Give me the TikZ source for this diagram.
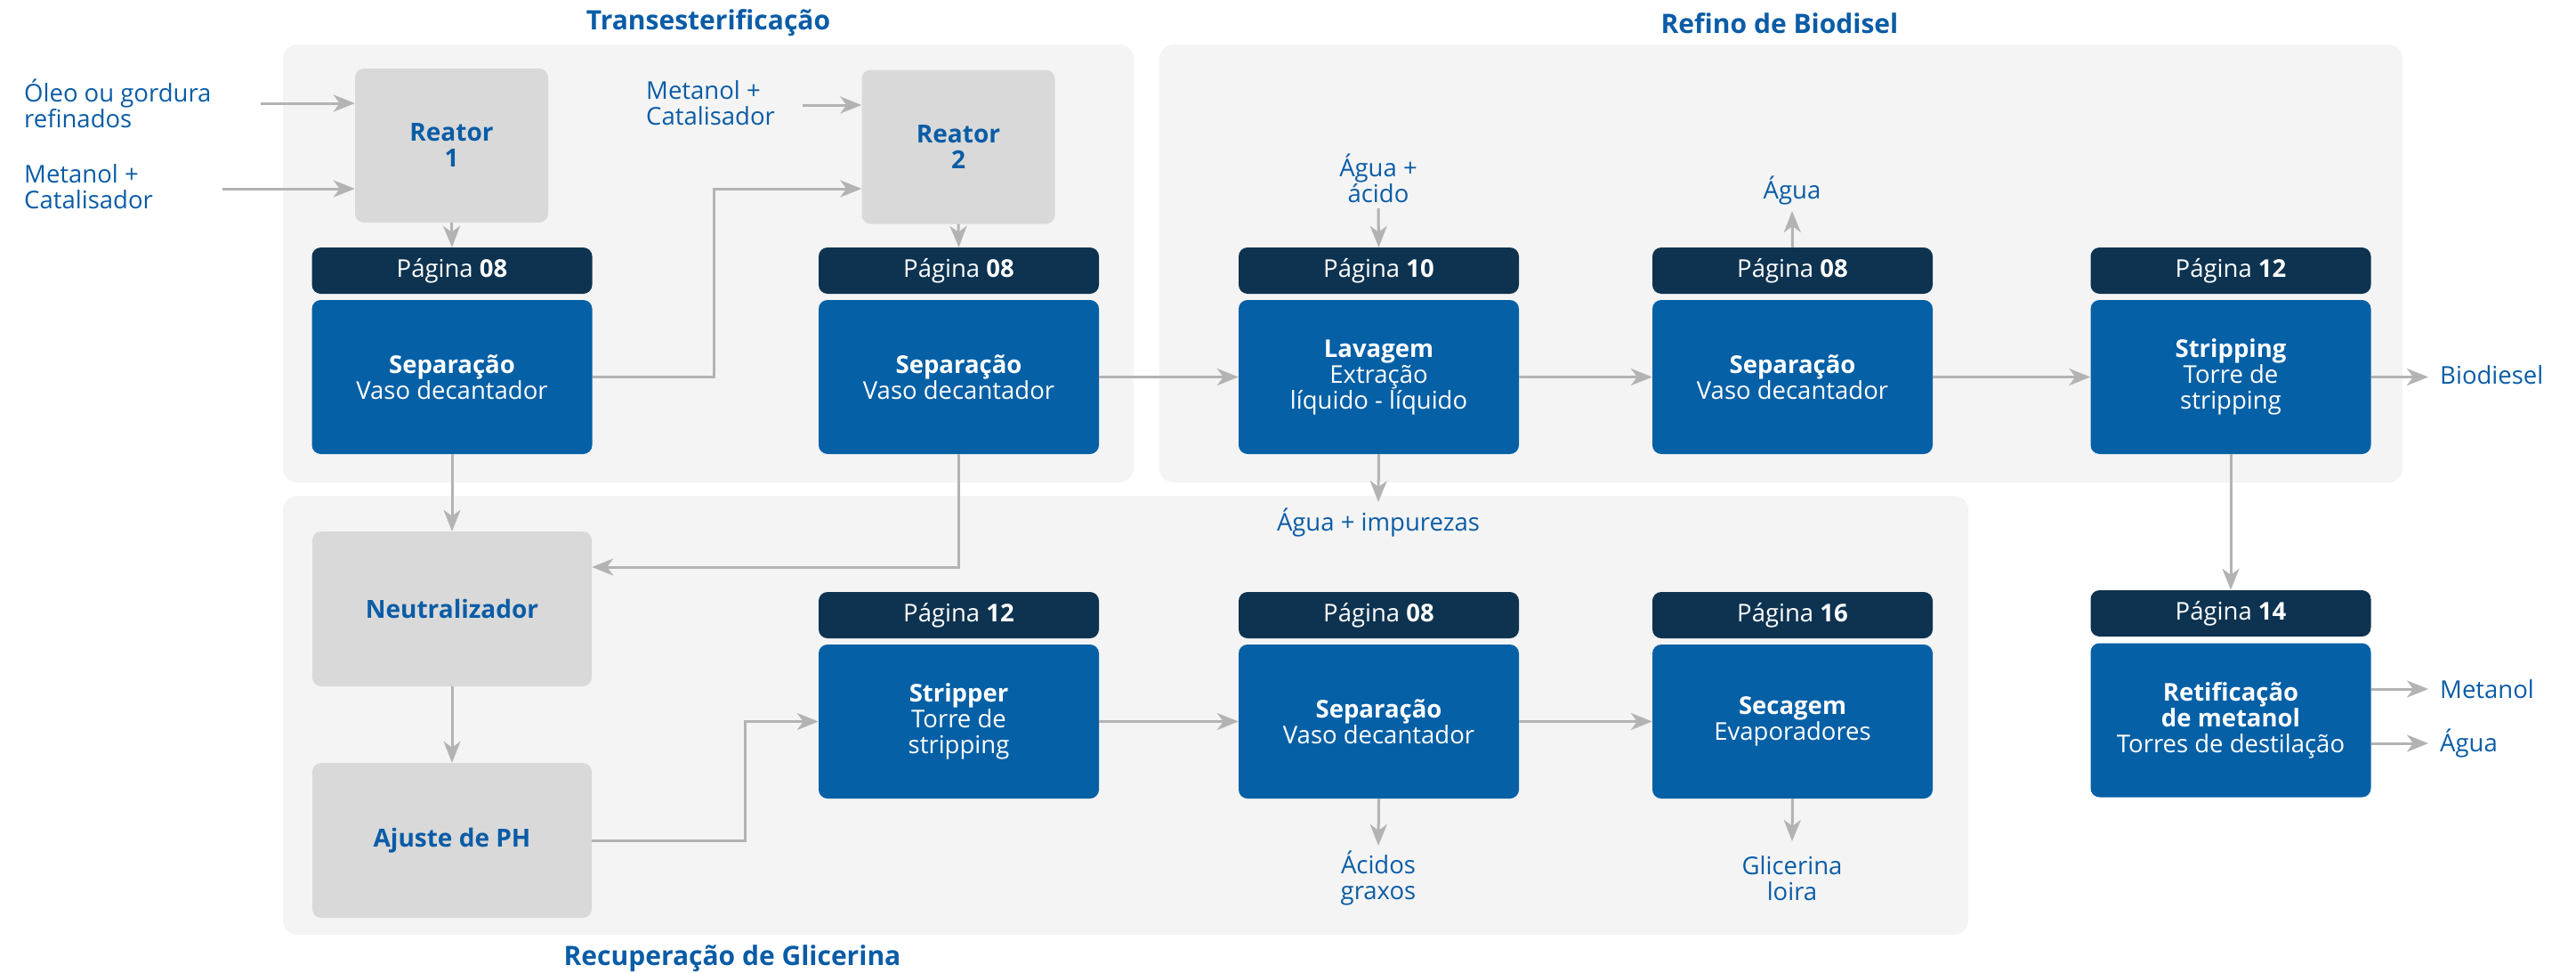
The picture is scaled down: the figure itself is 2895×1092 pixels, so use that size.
\documentclass[tikz,border=0pt]{standalone}
\usepackage{fontspec}
\setmainfont{Open Sans}
\usetikzlibrary{arrows.meta}

\definecolor{panel}{HTML}{F4F4F4}
\definecolor{unitfill}{HTML}{D9D9D9}
\definecolor{hdrfill}{HTML}{0E3350}
\definecolor{procfill}{HTML}{0560A6}
\definecolor{ink}{HTML}{0A5CA6}
\definecolor{flow}{HTML}{B3B3B3}

\begin{document}
\begin{tikzpicture}[x=1pt,y=-1pt,
  every node/.style={font=\fontsize{27.5}{29}\selectfont, inner sep=0pt},
  panelbox/.style={fill=panel, rounded corners=16pt},
  paneltitle/.style={text=ink, font=\fontsize{30}{32}\selectfont\bfseries},
  unitbox/.style={fill=unitfill, rounded corners=10pt, minimum width=217pt,
    minimum height=173pt, text=ink, align=center,
    font=\fontsize{28}{29}\selectfont\bfseries},
  wideunit/.style={unitbox, minimum width=314pt, minimum height=174pt},
  hdrbox/.style={fill=hdrfill, rounded corners=10pt, minimum width=315pt,
    minimum height=52pt, text=white},
  procbox/.style={fill=procfill, rounded corners=10pt, minimum width=315pt,
    minimum height=173pt, text=white, align=center},
  lbl/.style={text=ink},
  flowline/.style={draw=flow, line width=3pt,
    -{Stealth[length=24pt, width=19pt, inset=7pt]}}
]
\useasboundingbox (0,0) rectangle (2895,1092);

% ---------- panels ----------
\fill[panelbox] (318,50) rectangle (1274,542);
\fill[panelbox] (1303,50) rectangle (2700,542);
\fill[panelbox] (318,557) rectangle (2212,1050);

\node[paneltitle] (tTrans) at (796,26) {Transesterificação};
\node[paneltitle] (tRefino) at (2000,26) {Refino de Biodisel};
\node[paneltitle] (tGlic) at (823,1077) {Recuperação de Glicerina};

% ---------- transesterification ----------
\node[unitbox] (r1) at (507.5,163.5) {Reator\\1};
\node[unitbox] (r2) at (1077,165) {Reator\\2};
\node[hdrbox] (h1) at (508,304) {Página \textbf{08}};
\node[procbox] (s1) at (508,423.5) {\textbf{Separação}\\Vaso decantador};
\node[hdrbox] (h2) at (1077.5,304) {Página \textbf{08}};
\node[procbox] (s2) at (1077.5,423.5) {\textbf{Separação}\\Vaso decantador};

% ---------- biodiesel refining ----------
\node[hdrbox] (h3) at (1549.5,304) {Página \textbf{10}};
\node[procbox] (lav) at (1549.5,423.5) {\textbf{Lavagem}\\Extração\\líquido - líquido};
\node[hdrbox] (h4) at (2014.5,304) {Página \textbf{08}};
\node[procbox] (s3) at (2014.5,423.5) {\textbf{Separação}\\Vaso decantador};
\node[hdrbox] (h5) at (2507,304) {Página \textbf{12}};
\node[procbox] (strip) at (2507,423.5) {\textbf{Stripping}\\Torre de\\stripping};

% ---------- glycerin recovery ----------
\node[wideunit] (neut) at (508,684) {Neutralizador};
\node[wideunit] (ajs) at (508,944) {Ajuste de PH};
\node[hdrbox] (h6) at (1077.5,691) {Página \textbf{12}};
\node[procbox] (stp) at (1077.5,810.5) {\textbf{Stripper}\\Torre de\\stripping};
\node[hdrbox] (h7) at (1549.5,691) {Página \textbf{08}};
\node[procbox] (s4) at (1549.5,810.5) {\textbf{Separação}\\Vaso decantador};
\node[hdrbox] (h8) at (2014.5,691) {Página \textbf{16}};
\node[procbox] (sec) at (2014.5,810.5) {\textbf{Secagem}\\Evaporadores};

% ---------- methanol rectification ----------
\node[hdrbox] (h9) at (2507,689) {Página \textbf{14}};
\node[procbox] (ret) at (2507,809) {\textbf{Retificação}\\\textbf{de metanol}\\Torres de destilação};

% ---------- stream labels ----------
\node[lbl, anchor=west, align=left] (oleo) at (27,116) {Óleo ou gordura\\refinados};
\node[lbl, anchor=west, align=left] (met1) at (27,210) {Metanol +\\Catalisador};
\node[lbl, anchor=west, align=left] (met2) at (726,116) {Metanol +\\Catalisador};
\node[lbl, align=center] (aguaAc) at (1549,200) {Água +\\ácido};
\node[lbl] (agua1) at (2014,214) {Água};
\node[lbl] (aguaImp) at (1549,587) {Água + impurezas};
\node[lbl, anchor=west] (biod) at (2742,421.5) {Biodiesel};
\node[lbl, anchor=west] (metOut) at (2742,774) {Metanol};
\node[lbl, anchor=west] (agua2) at (2742,835) {Água};
\node[lbl, align=center] (acidos) at (1549,986) {Ácidos\\graxos};
\node[lbl, align=center] (glic) at (2014,987) {Glicerina\\loira};

% ---------- connector end points ----------
\coordinate (oleoEnd) at (293,116);
\coordinate (met1End) at (250,212);
\coordinate (met2End) at (902,118);
\coordinate (j1) at (802,212);
\coordinate (j2) at (837,810.5);
\coordinate (aguaAcEnd) at (1549,234);
\coordinate (agua1End) at (2014,237);
\coordinate (impEnd) at (1549,564);
\coordinate (acidEnd) at (1549,950);
\coordinate (glicEnd) at (2014,945);
\coordinate (biodEnd) at (2729,423.5);
\coordinate (metEnd) at (2729,774);
\coordinate (agua2End) at (2729,835);
\coordinate (neutIn) at (665,637);

% ---------- flows ----------
\draw[flowline] (oleoEnd) -- (oleoEnd -| r1.west);
\draw[flowline] (met1End) -- (met1End -| r1.west);
\draw[flowline] (met2End) -- (met2End -| r2.west);
\draw[flowline] (r1.south) -- (h1.north);
\draw[flowline] (r2.south) -- (h2.north);
\draw[flowline] (s1.east) -| (j1) -- (j1 -| r2.west);

\draw[flowline] (s1.south) -- (neut.north);
\draw[flowline] (s2.south) |- (neutIn -| neut.east);
\draw[flowline] (neut.south) -- (ajs.north);
\draw[flowline] (ajs.east) -| (j2) -- (stp.west);
\draw[flowline] (stp.east) -- (s4.west);
\draw[flowline] (s4.east) -- (sec.west);
\draw[flowline] (s4.south) -- (acidEnd);
\draw[flowline] (sec.south) -- (glicEnd);

\draw[flowline] (s2.east) -- (lav.west);
\draw[flowline] (lav.east) -- (s3.west);
\draw[flowline] (s3.east) -- (strip.west);
\draw[flowline] (strip.east) -- (biodEnd);
\draw[flowline] (aguaAcEnd) -- (h3.north);
\draw[flowline] (h4.north) -- (agua1End);
\draw[flowline] (lav.south) -- (impEnd);

\draw[flowline] (strip.south) -- (h9.north);
\draw[flowline] (metEnd -| ret.east) -- (metEnd);
\draw[flowline] (agua2End -| ret.east) -- (agua2End);
\end{tikzpicture}
\end{document}
